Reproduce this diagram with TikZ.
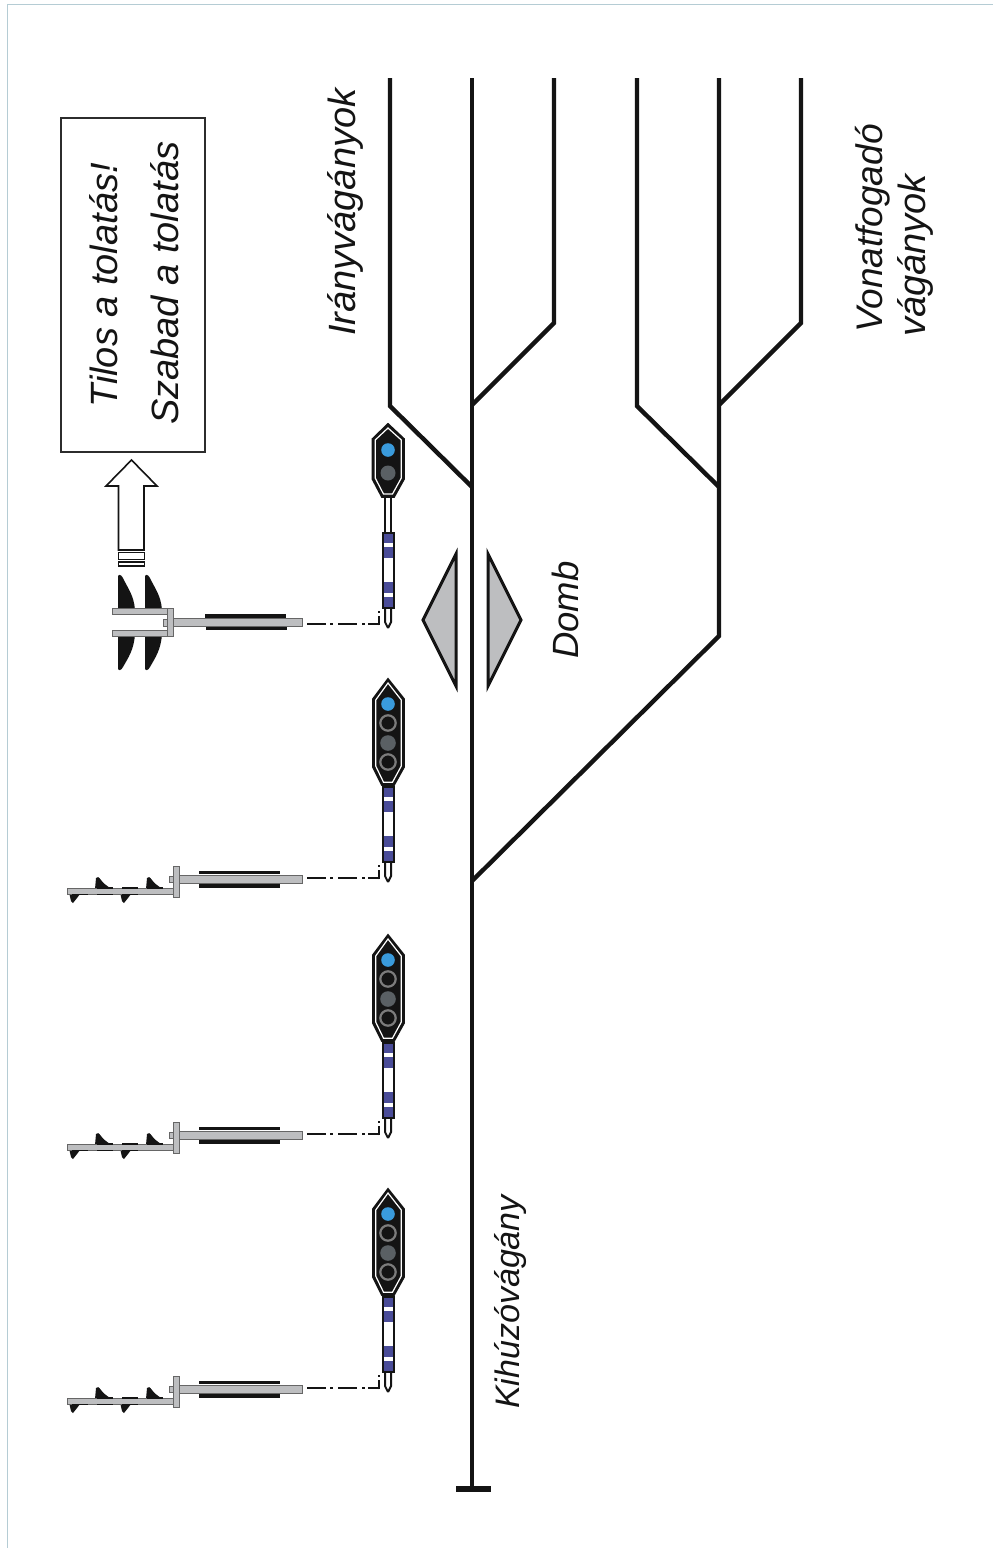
\documentclass[tikz,border=0pt]{standalone}
\usepackage{fontspec}
\setmainfont{Liberation Sans}
\definecolor{frameblue}{HTML}{B5CCD4}
\definecolor{lampblue}{HTML}{3A9BDC}
\definecolor{lampgrey}{HTML}{5A6064}
\definecolor{ringgrey}{HTML}{7C7C7C}
\definecolor{barblue}{HTML}{4A4C98}
\definecolor{partgrey}{HTML}{BDBEC0}
\definecolor{ink}{HTML}{141414}
\tikzset{
  track/.style={draw=ink,line width=4.4pt,line join=miter,line cap=butt},
  label/.style={font=\itshape\fontsize{38}{40}\selectfont,rotate=90,anchor=base west,text=ink,inner sep=0pt},
  partg/.style={fill=partgrey,draw=ink!65,line width=0.8pt},
  wedgeg/.style={fill=partgrey,draw=ink,line width=3pt,line join=miter},
  headout/.style={fill=ink,draw=ink,line width=1.8pt,line join=miter},
  headin/.style={draw=white,line width=1.2pt,line join=miter},
}
% blue and white post with its foot and the dash-dot wire; y is relative to the post top
\newcommand{\sigpost}{%
  \fill[ink] (381.5,0) rectangle (395,77);
  \fill[barblue] (383.5,2) rectangle (393,75);
  \fill[white] (383.5,11) rectangle (393,15);
  \fill[white] (383.5,26) rectangle (393,50);
  \fill[white] (383.5,61) rectangle (393,65);
  \draw[ink,line width=2pt] (385,77) -- (385,90) -- (388,96);
  \draw[ink,line width=2pt] (391,77) -- (391,90) -- (388,96);
  \draw[ink,line width=2.6pt,line cap=butt,dash pattern=on 19pt off 4pt on 3pt off 5pt on 19pt off 5pt on 3pt off 3pt on 10pt off 99pt] (307,92) -- (378,92) coordinate (wireend);
  \draw[ink,line width=2.4pt] (379,93.3) -- (379,84);
  \fill[ink] (378,81) rectangle (380,79);
}
% head with four lamps, y relative to the post top
\newcommand{\headfour}{%
  \draw[headout] (388,-107) -- (404,-87) -- (404,-19) -- (394,-1) -- (382,-1) -- (373,-19) -- (373,-87) -- cycle;
  \draw[headin] (388,-103) -- (401.3,-86) -- (401.3,-20) -- (392.5,-3.8) -- (383.5,-3.8) -- (375.7,-20) -- (375.7,-86) -- cycle;
  \fill[lampblue] (388,-82) circle (6.8);
  \draw[ringgrey,line width=2.2pt] (388,-63) circle (7.7);
  \fill[lampgrey] (388,-43) circle (7.8);
  \draw[ringgrey,line width=2.2pt] (388,-24) circle (7.7);
}
% rod, plate and bars of a ground signal, y relative to the post top
\newcommand{\rodparts}{%
  \fill[ink] (199,84.5) rectangle (280,88);
  \fill[ink] (199,98) rectangle (280,101.5);
  \draw[partg] (169,90) rectangle (173,96);
  \draw[partg] (179,89) rectangle (302,97);
}
% a single arm with four blades
\newcommand{\armone}{%
  \foreach \u in {95,146}{
    \fill[ink] (\u,103) -- (\u+1,92) .. controls (\u+2,90) and (\u+4,91) .. (\u+6,94) .. controls (\u+9,98) and (\u+11,99) .. (\u+15,102) -- cycle;
  }
  \foreach \u in {70,121}{
    \fill[ink] (\u-1,106) -- (\u+13,106) .. controls (\u+10,108) and (\u+8,110) .. (\u+7,112) -- (\u+3,117) -- (\u+1,115) -- cycle;
  }
  \draw[partg] (67,102) rectangle (173,108);
  \foreach \u in {97,122,147}{ \draw[ink,line width=1.4pt] (\u,102) -- (\u+16,102); \draw[ink,line width=1.4pt] (\u-25,108.3) -- (\u-9,108.3); }
  \draw[partg] (173,80) rectangle (179,111);
}
\newcommand{\sigunit}[1]{%
  \begin{scope}[shift={(0,#1)}]
    \sigpost \headfour \rodparts \armone
  \end{scope}
}
\begin{document}
\begin{tikzpicture}[x=1pt,y=-1pt]
\useasboundingbox (0,0) rectangle (993,1548);
\fill[white] (0,0) rectangle (993,1548);
\draw[frameblue,line width=1pt] (7.5,1548) -- (7.5,4.5) -- (993,4.5);

% track junctions
\coordinate (mTop) at (472,78);
\coordinate (mEnd) at (472,1489);
\coordinate (barL) at (456,1489);
\coordinate (barR) at (491,1489);
\coordinate (a1) at (390,78);   \coordinate (a2) at (390,406);  \coordinate (a3) at (472,487);
\coordinate (b1) at (554,78);   \coordinate (b2) at (554,323);  \coordinate (b3) at (472,405);
\coordinate (c1) at (637,78);   \coordinate (c2) at (637,406);  \coordinate (c3) at (719,487);
\coordinate (d1) at (719,78);   \coordinate (d2) at (719,636);  \coordinate (d3) at (472,881);
\coordinate (e1) at (801,78);   \coordinate (e2) at (801,323);  \coordinate (e3) at (719,405);
\draw[track] (mTop) -- (mEnd);
\draw[track,line width=6pt] (barL) -- (barR);
\draw[track] (a1) -- (a2) -- (a3);
\draw[track] (b1) -- (b2) -- (b3);
\draw[track] (c1) -- (c2) -- (c3);
\draw[track] (d1) -- (d2) -- (d3);
\draw[track] (e1) -- (e2) -- (e3);

% hump markers
\draw[wedgeg] (456,554) -- (423,620) -- (456,686) -- cycle;
\draw[wedgeg] (488,554) -- (521,620) -- (488,686) -- cycle;

% message box and arrow
\node[draw=ink!90,line width=2.4pt,inner sep=0pt,fill=white,anchor=north west,minimum width=144pt,minimum height=334pt] (msgbox) at (59.5,116.5) {};
\node[label] (tilos) at (117,408) {Tilos a tolatás!};
\node[label] (szabad) at (178,425) {Szabad a tolatás};
\draw[ink,fill=white,line width=1.6pt,line join=miter] (131.5,460) -- (157,486) -- (144,486) -- (144,550) -- (118.5,550) -- (118.5,486) -- (106,486) -- cycle;
\draw[ink,line width=1.8pt] (118.5,552.5) rectangle (144.5,559.5);
\draw[ink,line width=1.6pt] (118.5,562) rectangle (144.5,566);

% labels
\node[label] (irany) at (355,336) {Irányvágányok};
\node[label,font=\itshape\fontsize{37}{40}\selectfont] (vonat1) at (882,333) {Vonatfogadó};
\node[label] (vonat2) at (925,337) {vágányok};
\node[label,font=\itshape\fontsize{36.5}{40}\selectfont] (domb) at (578,659) {Domb};
\node[label,font=\itshape\fontsize{34}{40}\selectfont] (kihuzo) at (519,1409) {Kihúzóvágány};

% first signal: two lamps, double arm
\begin{scope}[shift={(0,532)}]
  \sigpost
\end{scope}
\draw[ink,line width=2pt] (385,497) -- (385,532);
\draw[ink,line width=2pt] (391,497) -- (391,532);
\draw[headout] (388,424) -- (404,439) -- (404,479) -- (394,497) -- (382,497) -- (372.5,479) -- (372.5,439) -- cycle;
\draw[headin] (388,428) -- (401.3,440) -- (401.3,478) -- (392.5,494) -- (383.5,494) -- (375.2,478) -- (375.2,440) -- cycle;
\fill[lampblue] (388,450) circle (6.8);
\fill[lampgrey] (388,473) circle (7.5);
% double arm
\foreach \u in {118,145}{
  \fill[ink] (\u,610) -- (\u,577) .. controls (\u,574) and (\u+3,574) .. (\u+5,578) .. controls (\u+9,587) and (\u+16,595) .. (\u+17,610) -- cycle;
  \fill[ink] (\u,634) -- (\u,668) .. controls (\u,671) and (\u+3,671) .. (\u+5,667) .. controls (\u+10,658) and (\u+16,650) .. (\u+17,634) -- cycle;
}
\fill[ink] (205,614) rectangle (286,618);
\fill[ink] (206,626) rectangle (287,630);
\draw[partg] (112,608) rectangle (167,614);
\draw[partg] (112,630) rectangle (167,636);
\draw[partg] (163,619) rectangle (167,626);
\draw[partg] (173,618) rectangle (302,626);
\draw[partg] (167,608) rectangle (173,636);

\sigunit{786}
\sigunit{1042}
\sigunit{1296}
\end{tikzpicture}
\end{document}
